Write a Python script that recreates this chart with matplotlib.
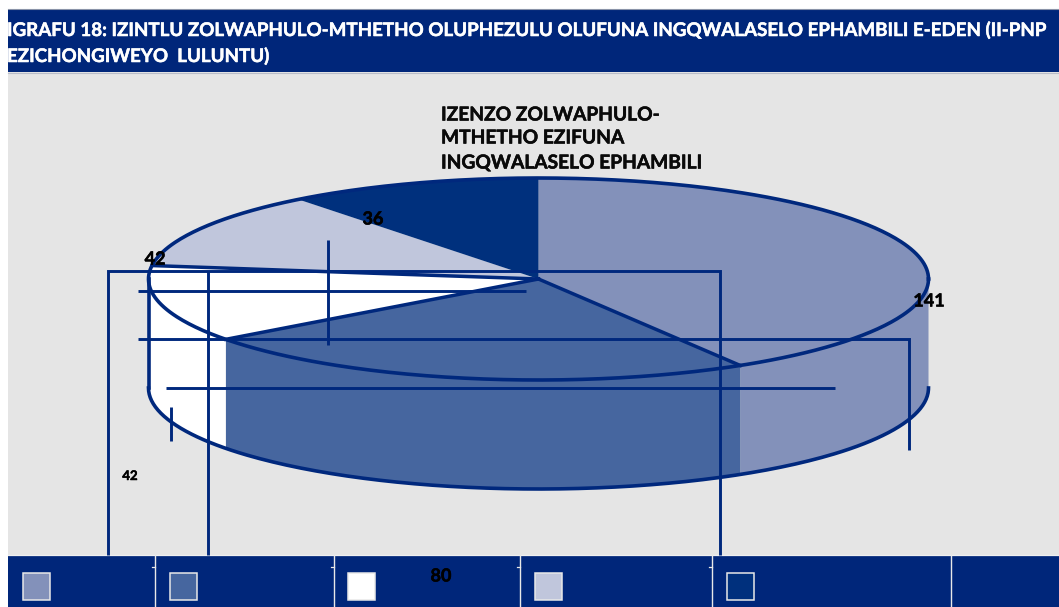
import numpy as np
import matplotlib
matplotlib.use('Agg')
import matplotlib.pyplot as plt
import matplotlib.patheffects as pe

# pie data, clockwise from 12 o'clock
values = [141, 80, 42, 42, 36]
colors = ['#8391ba', '#46669f', '#ffffff', '#c0c6dc', '#00307d']

title_lines = ['IGRAFU 18: IZINTLU ZOLWAPHULO-MTHETHO OLUPHEZULU OLUFUNA INGQWALASELO EPHAMBILI E-EDEN (II-PNP',
               'EZICHONGIWEYO  LULUNTU)']
pie_title = ['IZENZO ZOLWAPHULO-', 'MTHETHO EZIFUNA', 'INGQWALASELO EPHAMBILI']
label_texts = ['141', '80', '42', '42', '36']

NAVY = '#00267a'
LINE = '#00287d'
cx, cy, rx, ry, depth = 538.5, 279, 390, 101, 109


def arc(t1, t2, dy=0, n=200):
    t = np.radians(np.linspace(t1, t2, n))
    return cx + rx * np.cos(t), cy + dy - ry * np.sin(t)


plt.rcParams['font.family'] = ['Lato', 'DejaVu Sans']
fig = plt.figure(figsize=(10.59, 6.07), dpi=100)
ax = fig.add_axes([0, 0, 1, 1])
ax.set_xlim(0, 1059)
ax.set_ylim(607, 0)
ax.axis('off')

# background and bands
ax.fill_between([8, 1059], 72, 555, color='#e5e5e5', lw=0, zorder=0)
ax.fill_between([8, 1059], 9, 72, color=NAVY, lw=0, zorder=1)
ax.fill_between([8, 1059], 555, 607, color=NAVY, lw=0, zorder=1)
ax.plot([8, 1059], [8.5, 8.5], color='#8a93a8', lw=0.8, zorder=1)
ax.plot([8, 1059], [72.5, 72.5], color='#b8bcc8', lw=0.8, zorder=1)
ax.plot([8, 1059], [555, 555], color='#f0f0f0', lw=0.9, zorder=3)

# wedges, angles come from the values
angles = 90 - np.cumsum([0] + values) / sum(values) * 360
for i, c in enumerate(colors):
    t1, t2 = angles[i], angles[i + 1]
    # side wall, only the front half is visible
    lo, hi = max(t2, -180), min(t1, 0)
    if hi > lo:
        x0, y0 = arc(lo, hi)
        x1, y1 = arc(hi, lo, depth)
        ax.fill(np.r_[x0, x1], np.r_[y0, y1], color=c, lw=0, zorder=2)
    x, y = arc(t1, t2)
    ax.fill(np.r_[cx, x], np.r_[cy, y], color=c, lw=0, zorder=3)

# outlines
x, y = arc(0, 360, n=500)
ax.plot(x, y, color=LINE, lw=2.6, zorder=4)
x, y = arc(-180, 0, depth)
ax.plot(x, y, color=LINE, lw=2.6, zorder=4)
ax.plot([cx - rx, cx - rx], [cy, cy + depth], color=LINE, lw=2.6, zorder=4)
for a in angles[1:4]:
    x, y = arc(a, a, n=1)
    ax.plot([cx, x[0]], [cy, y[0]], color=LINE, lw=2.5, zorder=4)

# stray leader lines
leaders = [([108, 108, 720, 720], [555, 271, 271, 555]),
           ([208, 208], [271, 555]),
           ([328, 328], [240, 345]),
           ([138, 526], [290.5, 290.5]),
           ([138, 909, 909], [338.5, 338.5, 450]),
           ([166, 835], [387.5, 387.5]),
           ([170.5, 170.5], [407, 441])]
for lx, ly in leaders:
    ax.plot(lx, ly, color=LINE, lw=2.1, solid_joinstyle='miter', solid_capstyle='butt', zorder=5)

# titles
bolder = [pe.withStroke(linewidth=0.35, foreground='white')]
for line, yy in zip(title_lines, [30, 56]):
    ax.text(7, yy, line, color='white', fontsize=13.5, fontweight='bold', va='center', ha='left',
            path_effects=bolder, zorder=6)
bolder = [pe.withStroke(linewidth=0.35, foreground='black')]
for line, yy in zip(pie_title, [115, 138, 163]):
    ax.text(441, yy, line, color='#0a0a0a', fontsize=13.8, fontweight='bold', va='center', ha='left',
            path_effects=bolder, zorder=6)

# data labels
label_pos = [(929, 301), (441, 576), (130, 476), (155, 259), (373, 219)]
label_size = [13, 13, 9.5, 13, 13]
for s, (lx, ly), fs in zip(label_texts, label_pos, label_size):
    ax.text(lx, ly, s, color='black', fontsize=fs, fontweight='bold',
            ha='center', va='center', path_effects=bolder, zorder=7)

# legend strip (labels are blank in the source)
swatch_x = [23, 170, 348, 535, 727]
dividers = [155, 334, 520, 712, 950.5]
for d in dividers:
    ax.plot([d, d], [555, 607], color='#e8e8e8', lw=1, zorder=3)
for d in dividers[:4]:
    ax.plot([d - 3, d], [567, 567], color='#e8e8e8', lw=0.9, zorder=3)
for sx, c in zip(swatch_x, colors):
    ax.fill([sx, sx + 27, sx + 27, sx], [573, 573, 600, 600], facecolor=c, edgecolor='#e8e8e8', lw=1.1, zorder=3)

fig.savefig('out.png', dpi=100)
